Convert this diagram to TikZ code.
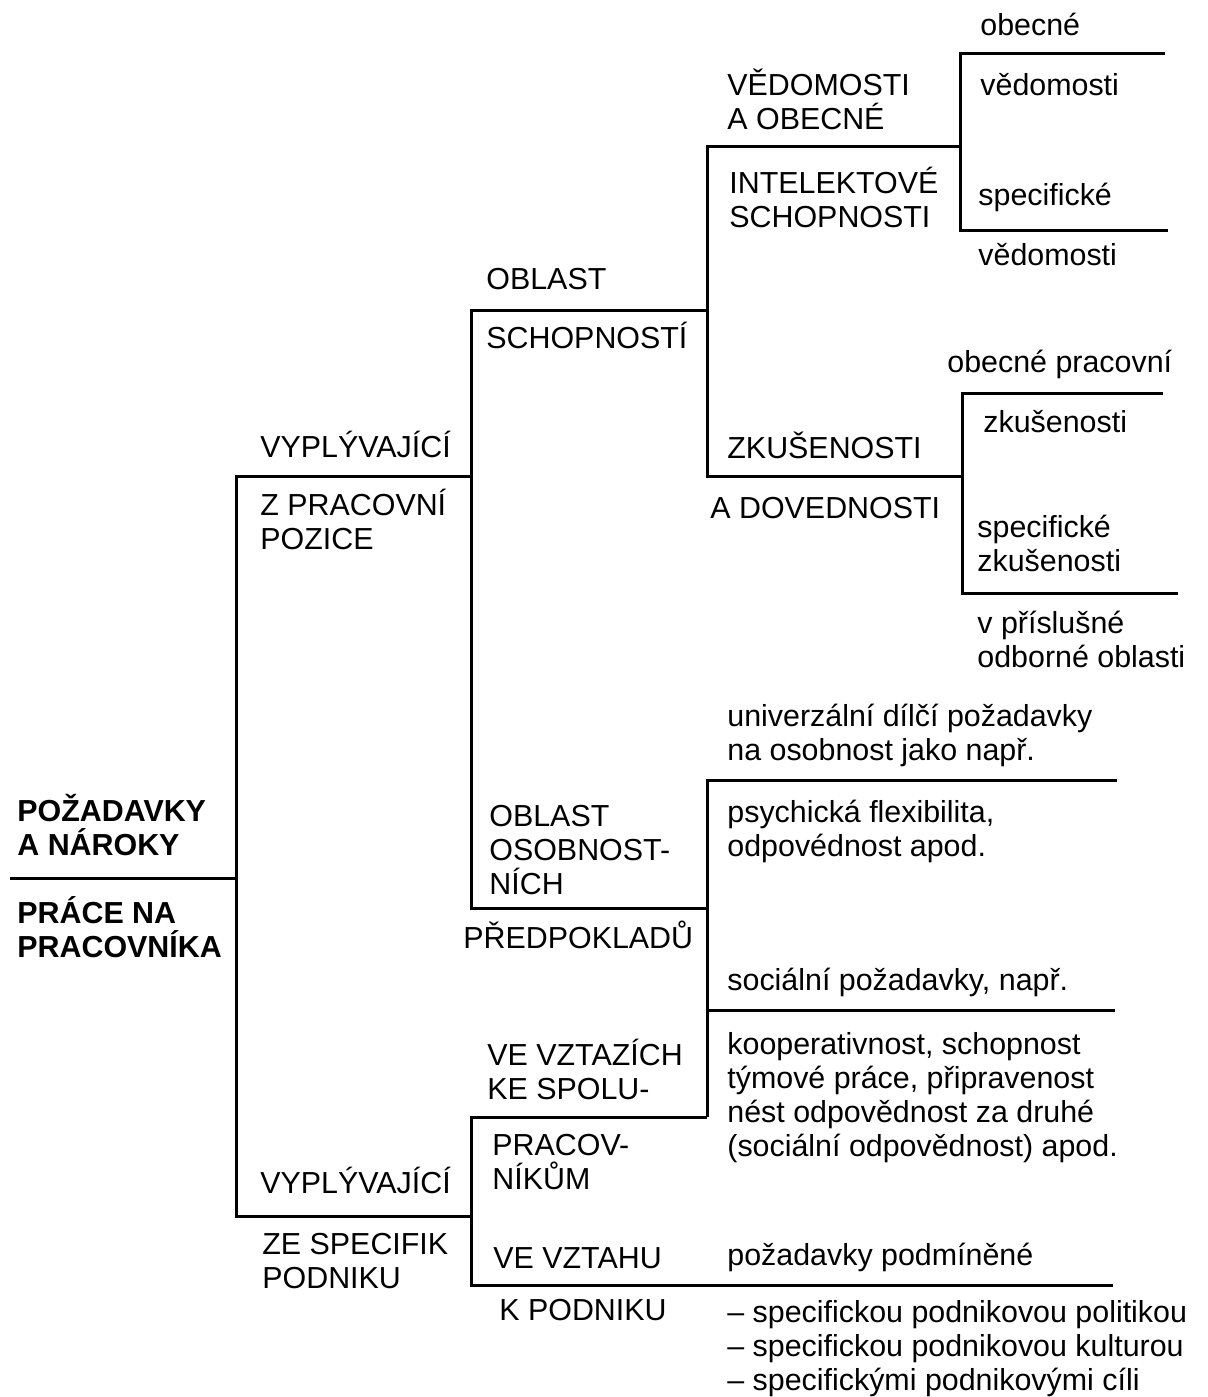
\documentclass[tikz,border=0pt]{standalone}
\usepackage{fontspec}
\setmainfont{Liberation Sans}
\usetikzlibrary{positioning}
\newcommand{\diafont}{\fontsize{15.2pt}{17pt}\selectfont}

\begin{document}
\begin{tikzpicture}[x=0.5pt, y=-0.5pt, font=\diafont,
    txt/.style={anchor=base west, align=left, inner sep=0pt},
    hlava/.style={txt, font=\diafont\bfseries},
    vetev/.style={line width=1.5pt}]
  \useasboundingbox (0,0) rectangle (1207,1397);

  % uzly stromu
  \coordinate (koren) at (10,878);
  \coordinate (uzel) at (236,878);
  \coordinate (pozice) at (471,476);
  \coordinate (podnik) at (471,1216);
  \coordinate (schop) at (707,310);
  \coordinate (osob) at (707,908);
  \coordinate (vedom) at (960,146);
  \coordinate (zkus) at (962,476);
  \coordinate (spolu) at (707,1117);
  \coordinate (vedobec) at (1165,53);
  \coordinate (vedspec) at (1168,230);
  \coordinate (zkuobec) at (1163,393);
  \coordinate (zkuspec) at (1178,593);
  \coordinate (osuniv) at (1117,780);
  \coordinate (ossoc) at (1115,1010);
  \coordinate (vztah) at (1113,1285);

  \draw[vetev] (koren) -- (uzel);
  \draw[vetev] (uzel) |- (pozice);
  \draw[vetev] (uzel) |- (podnik);
  \draw[vetev] (pozice) |- (schop);
  \draw[vetev] (pozice) |- (osob);
  \draw[vetev] (schop) |- (vedom);
  \draw[vetev] (schop) |- (zkus);
  \draw[vetev] (vedom) |- (vedobec);
  \draw[vetev] (vedom) |- (vedspec);
  \draw[vetev] (zkus) |- (zkuobec);
  \draw[vetev] (zkus) |- (zkuspec);
  \draw[vetev] (osob) |- (osuniv);
  \draw[vetev] (osob) |- (ossoc);
  \draw[vetev] (podnik) |- (spolu);
  \draw[vetev] (spolu) |- (ossoc);
  \draw[vetev] (podnik) |- (vztah);

  % koren (y = uaklad posledniho radku)
  \node[hlava] (pozad) at (17,855) {POŽADAVKY\\A NÁROKY};
  \node[hlava] (prace) at (17,957) {PRÁCE NA\\PRACOVNÍKA};

  % prvni uroven
  \node[txt] (vyp1) at (260,457) {VYPLÝVAJÍCÍ};
  \node[txt] (zpoz) at (260,549) {Z PRACOVNÍ\\POZICE};
  \node[txt] (vyp2) at (260,1193) {VYPLÝVAJÍCÍ};
  \node[txt] (zespec) at (262,1288) {ZE SPECIFIK\\PODNIKU};

  % druha uroven
  \node[txt] (obl1) at (486,289) {OBLAST};
  \node[txt] (schopn) at (486,348) {SCHOPNOSTÍ};
  \node[txt] (obl2) at (489,894) {OBLAST\\OSOBNOST-\\NÍCH};
  \node[txt] (predp) at (463,948) {PŘEDPOKLADŮ};
  \node[txt] (vztazich) at (487,1099) {VE VZTAZÍCH\\KE SPOLU-};
  \node[txt] (pracov) at (492,1189) {PRACOV-\\NÍKŮM};
  \node[txt] (vevztahu) at (493,1268) {VE VZTAHU};
  \node[txt] (kpodn) at (499,1320) {K PODNIKU};

  % treti uroven
  \node[txt] (vedob) at (727,129) {VĚDOMOSTI\\A OBECNÉ};
  \node[txt] (intel) at (729,227) {INTELEKTOVÉ\\SCHOPNOSTI};
  \node[txt] (zkusen) at (727,458) {ZKUŠENOSTI};
  \node[txt] (doved) at (710,518) {A DOVEDNOSTI};

  % listy
  \node[txt] (l1) at (980,35) {obecné};
  \node[txt] (l2) at (980,95) {vědomosti};
  \node[txt] (l3) at (978,205) {specifické};
  \node[txt] (l4) at (978,265) {vědomosti};
  \node[txt] (l5) at (947,372) {obecné pracovní};
  \node[txt] (l6) at (983,432) {zkušenosti};
  \node[txt] (l7) at (977,571) {specifické\\zkušenosti};
  \node[txt] (l8) at (977,667) {v příslušné\\odborné oblasti};
  \node[txt] (l9) at (727,760) {univerzální dílčí požadavky\\na osobnost jako např.};
  \node[txt] (l10) at (727,856) {psychická flexibilita,\\odpovédnost apod.};
  \node[txt] (l11) at (727,990) {sociální požadavky, např.};
  \node[txt] (l12) at (727,1156) {kooperativnost, schopnost\\týmové práce, připravenost\\nést odpovědnost za druhé\\(sociální odpovědnost) apod.};
  \node[txt] (l13) at (727,1265) {požadavky podmíněné};
  \node[txt] (l14) at (727,1390) {– specifickou podnikovou politikou\\– specifickou podnikovou kulturou\\– specifickými podnikovými cíli};
\end{tikzpicture}
\end{document}
